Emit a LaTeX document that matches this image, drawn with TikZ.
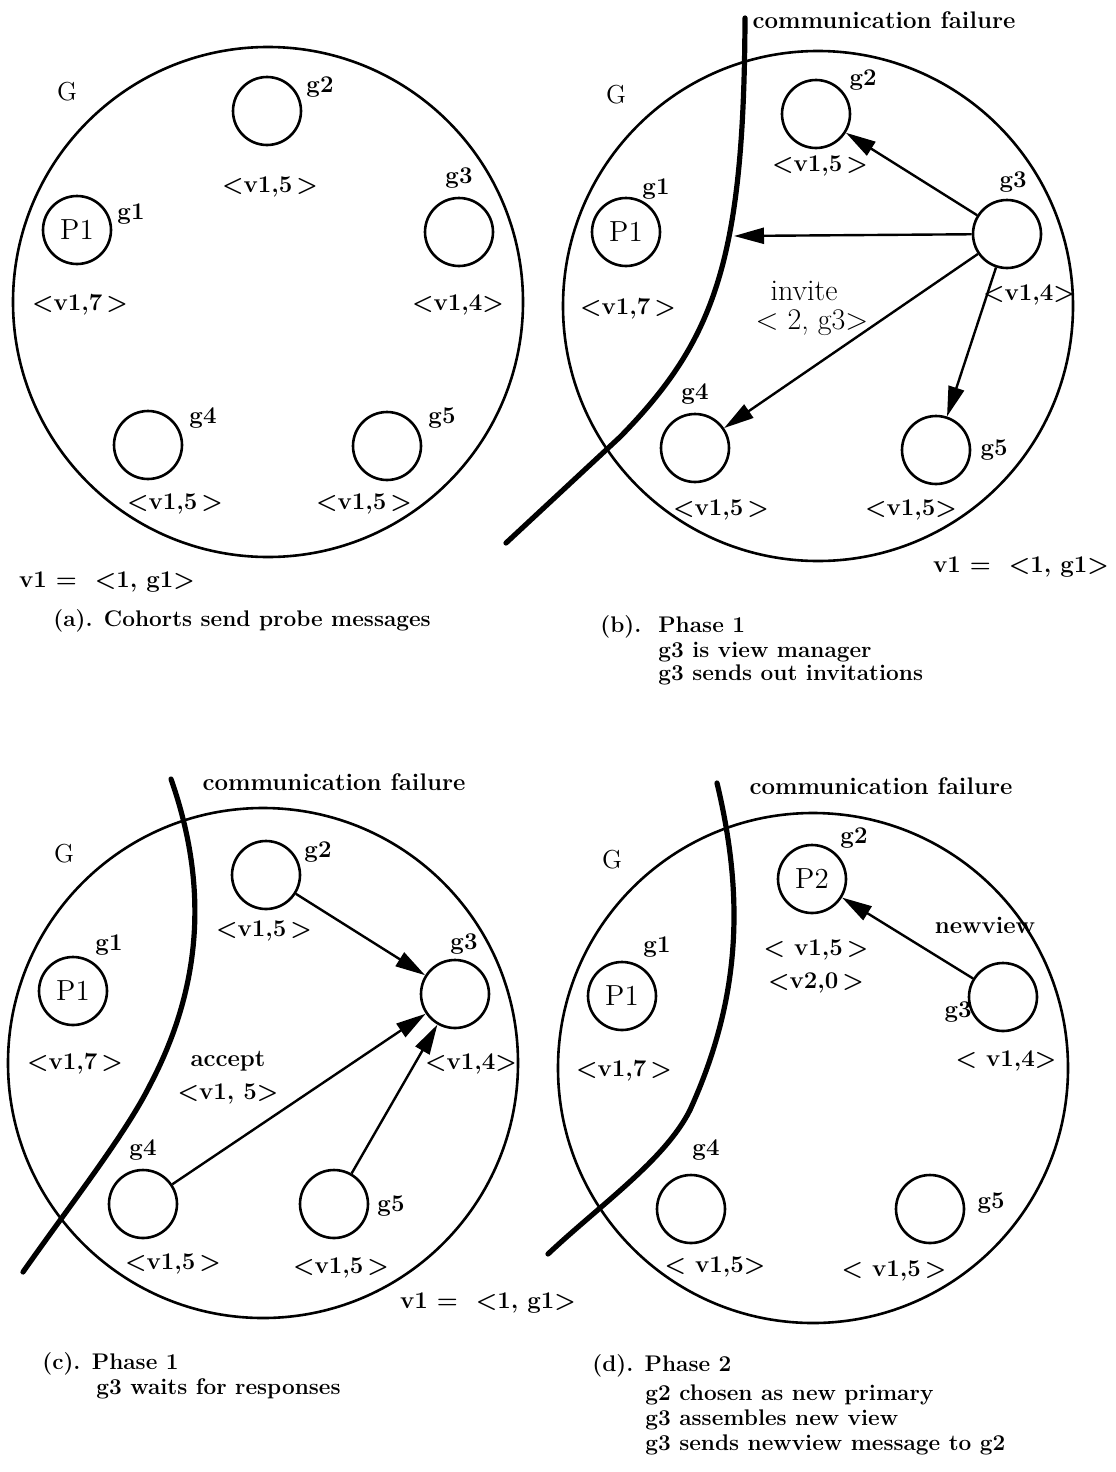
\documentclass[tikz,border=0pt]{standalone}
\usetikzlibrary{arrows.meta}
\begin{document}
\begin{tikzpicture}[x=0.5pt,y=-0.5pt,
  member/.style={circle, draw, line width=1.3pt, minimum size=34pt, inner sep=0pt, font=\fontsize{14.5}{16}\selectfont},
  group/.style={circle, draw, line width=1.3pt, minimum size=255pt, inner sep=0pt},
  lbl/.style={font=\fontsize{12}{14}\selectfont\bfseries, inner sep=0pt},
  rlbl/.style={font=\fontsize{13}{15}\selectfont, inner sep=0pt},
  msg/.style={font=\fontsize{15}{17}\selectfont, inner sep=0pt},
  captext/.style={font=\fontsize{11.3}{13}\selectfont\bfseries, inner sep=0pt, anchor=west},
  send/.style={line width=1.2pt, -{Triangle[length=15pt,width=8pt]}},
  failline/.style={line width=2.6pt, line cap=round}]
\useasboundingbox (0,0) rectangle (1115,1472);

% ---------------- (a) ----------------
\node[group] (A) at (268,302) {};
\node[member] (a1) at (77,230) {P1};
\node[member] (a2) at (267,111) {};
\node[member] (a3) at (459,232) {};
\node[member] (a4) at (148,445) {};
\node[member] (a5) at (387,446) {};
\node[rlbl] (aG) at (67,92) {G};
\node[lbl] (ag1) at (131,214) {g1};
\node[lbl] (ag2) at (320,87) {g2};
\node[lbl] (ag3) at (459,178) {g3};
\node[lbl] (ag4) at (203,418) {g4};
\node[lbl] (ag5) at (442,418) {g5};
\node[lbl] (av2) at (270,187) {<v1,5\,>};
\node[lbl] (av1) at (80,305) {<v1,7\,>};
\node[lbl] (av3) at (458,305) {<v1,4>};
\node[lbl] (av4) at (175,504) {<v1,5\,>};
\node[lbl] (av5) at (364,504) {<v1,5\,>};
\node[lbl] (aview) at (107,582) {v1 =\ \ <1, g1>};
\node[captext] (acap) at (53,621) {(a). Cohorts send probe messages};

% ---------------- (b) ----------------
\node[group] (B) at (818,306) {};
\node[member] (b1) at (626,232) {P1};
\node[member] (b2) at (816,114) {};
\node[member] (b3) at (1007,234) {};
\node[member] (b4) at (695,448) {};
\node[member] (b5) at (936,450) {};
\node[rlbl] (bG) at (616,95) {G};
\node[lbl] (bg1) at (656,189) {g1};
\node[lbl] (bg2) at (863,80) {g2};
\node[lbl] (bg3) at (1013,182) {g3};
\node[lbl] (bg4) at (695,394) {g4};
\node[lbl] (bg5) at (994,450) {g5};
\node[lbl] (bv2) at (820,166) {<v1,5\,>};
\node[lbl] (bv1) at (628,309) {<v1,7\,>};
\node[lbl] (bv3) at (1029,295) {<v1,4>};
\node[lbl] (bv4) at (721,510) {<v1,5\,>};
\node[lbl] (bv5) at (911,510) {<v1,5>};
\node[msg] (binv) at (804,291) {invite};
\node[msg] (binv2) at (812,323) {< 2, g3>};
\node[lbl] (bfailtxt) at (884,20) {communication failure};
\draw[failline] (745,18) .. controls (744,260) and (715,340) .. (620,437) -- (506,543);
\coordinate (bcut) at (734,236);
\draw[send] (b3) -- (b2);
\draw[send] (b3) -- (bcut);
\draw[send] (b3) -- (b4);
\draw[send] (b3) -- (b5);
\node[lbl] (bview) at (1021,567) {v1 =\ \ <1, g1>};
\node[captext] (bcap1) at (600,627) {(b).\ \ Phase 1};
\node[captext] (bcap2) at (658,652) {g3 is view manager};
\node[captext] (bcap3) at (658,675) {g3 sends out invitations};

% ---------------- (c) ----------------
\node[group] (C) at (263,1063) {};
\node[member] (c1) at (73,991) {P1};
\node[member] (c2) at (266,875) {};
\node[member] (c3) at (455,994) {};
\node[member] (c4) at (143,1204) {};
\node[member] (c5) at (334,1204) {};
\node[rlbl] (cG) at (64,854) {G};
\node[lbl] (cg1) at (109,945) {g1};
\node[lbl] (cg2) at (318,852) {g2};
\node[lbl] (cg3) at (464,944) {g3};
\node[lbl] (cg4) at (143,1150) {g4};
\node[lbl] (cg5) at (391,1206) {g5};
\node[lbl] (cv2) at (264,931) {<v1,5\,>};
\node[lbl] (cv1) at (75,1064) {<v1,7\,>};
\node[lbl] (cv3) at (471,1064) {<v1,4>};
\node[lbl] (cv4) at (173,1264) {<v1,5\,>};
\node[lbl] (cv5) at (341,1268) {<v1,5\,>};
\node[lbl] (cacc) at (228,1061) {accept};
\node[lbl] (cacc2) at (228,1094) {<v1, 5>};
\node[lbl] (cfailtxt) at (334,782) {communication failure};
\draw[failline] (171,779) .. controls (210,890) and (200,990) .. (150,1085)
                .. controls (125,1135) and (70,1205) .. (23,1272);
\draw[send] (c2) -- (c3);
\draw[send] (c4) -- (c3);
\draw[send] (c5) -- (c3);
\node[lbl] (cview) at (488,1303) {v1 =\ \ <1, g1>};
\node[captext] (ccap1) at (42,1364) {(c). Phase 1};
\node[captext] (ccap2) at (96,1389) {g3 waits for responses};

% ---------------- (d) ----------------
\node[group] (D) at (813,1068) {};
\node[member] (d1) at (622,996) {P1};
\node[member] (d2) at (812,879) {P2};
\node[member] (d3) at (1003,997) {};
\node[member] (d4) at (691,1209) {};
\node[member] (d5) at (930,1209) {};
\node[rlbl] (dG) at (612,860) {G};
\node[lbl] (dg1) at (657,947) {g1};
\node[lbl] (dg2) at (854,838) {g2};
\node[lbl] (dg3) at (958,1012) {g3};
\node[lbl] (dg4) at (706,1150) {g4};
\node[lbl] (dg5) at (991,1203) {g5};
\node[lbl] (dv2) at (816,950) {< v1,5\,>};
\node[lbl] (dv2b) at (816,983) {<v2,0\,>};
\node[lbl] (dv1) at (624,1071) {<v1,7\,>};
\node[lbl] (dv3) at (1006,1061) {< v1,4>};
\node[lbl] (dv4) at (715,1267) {< v1,5>};
\node[lbl] (dv5) at (894,1271) {< v1,5\,>};
\node[lbl] (dnew) at (985,925) {newview};
\node[lbl] (dfailtxt) at (881,786) {communication failure};
\draw[failline] (717,783) .. controls (745,900) and (740,1000) .. (690,1110)
                .. controls (665,1160) and (600,1205) .. (548,1254);
\draw[send] (d3) -- (d2);
\node[captext] (dcap1) at (592,1366) {(d). Phase 2};
\node[captext] (dcap2) at (645,1395) {g2 chosen as new primary};
\node[captext] (dcap3) at (645,1420) {g3 assembles new view};
\node[captext] (dcap4) at (645,1445) {g3 sends newview message to g2};
\end{tikzpicture}
\end{document}
